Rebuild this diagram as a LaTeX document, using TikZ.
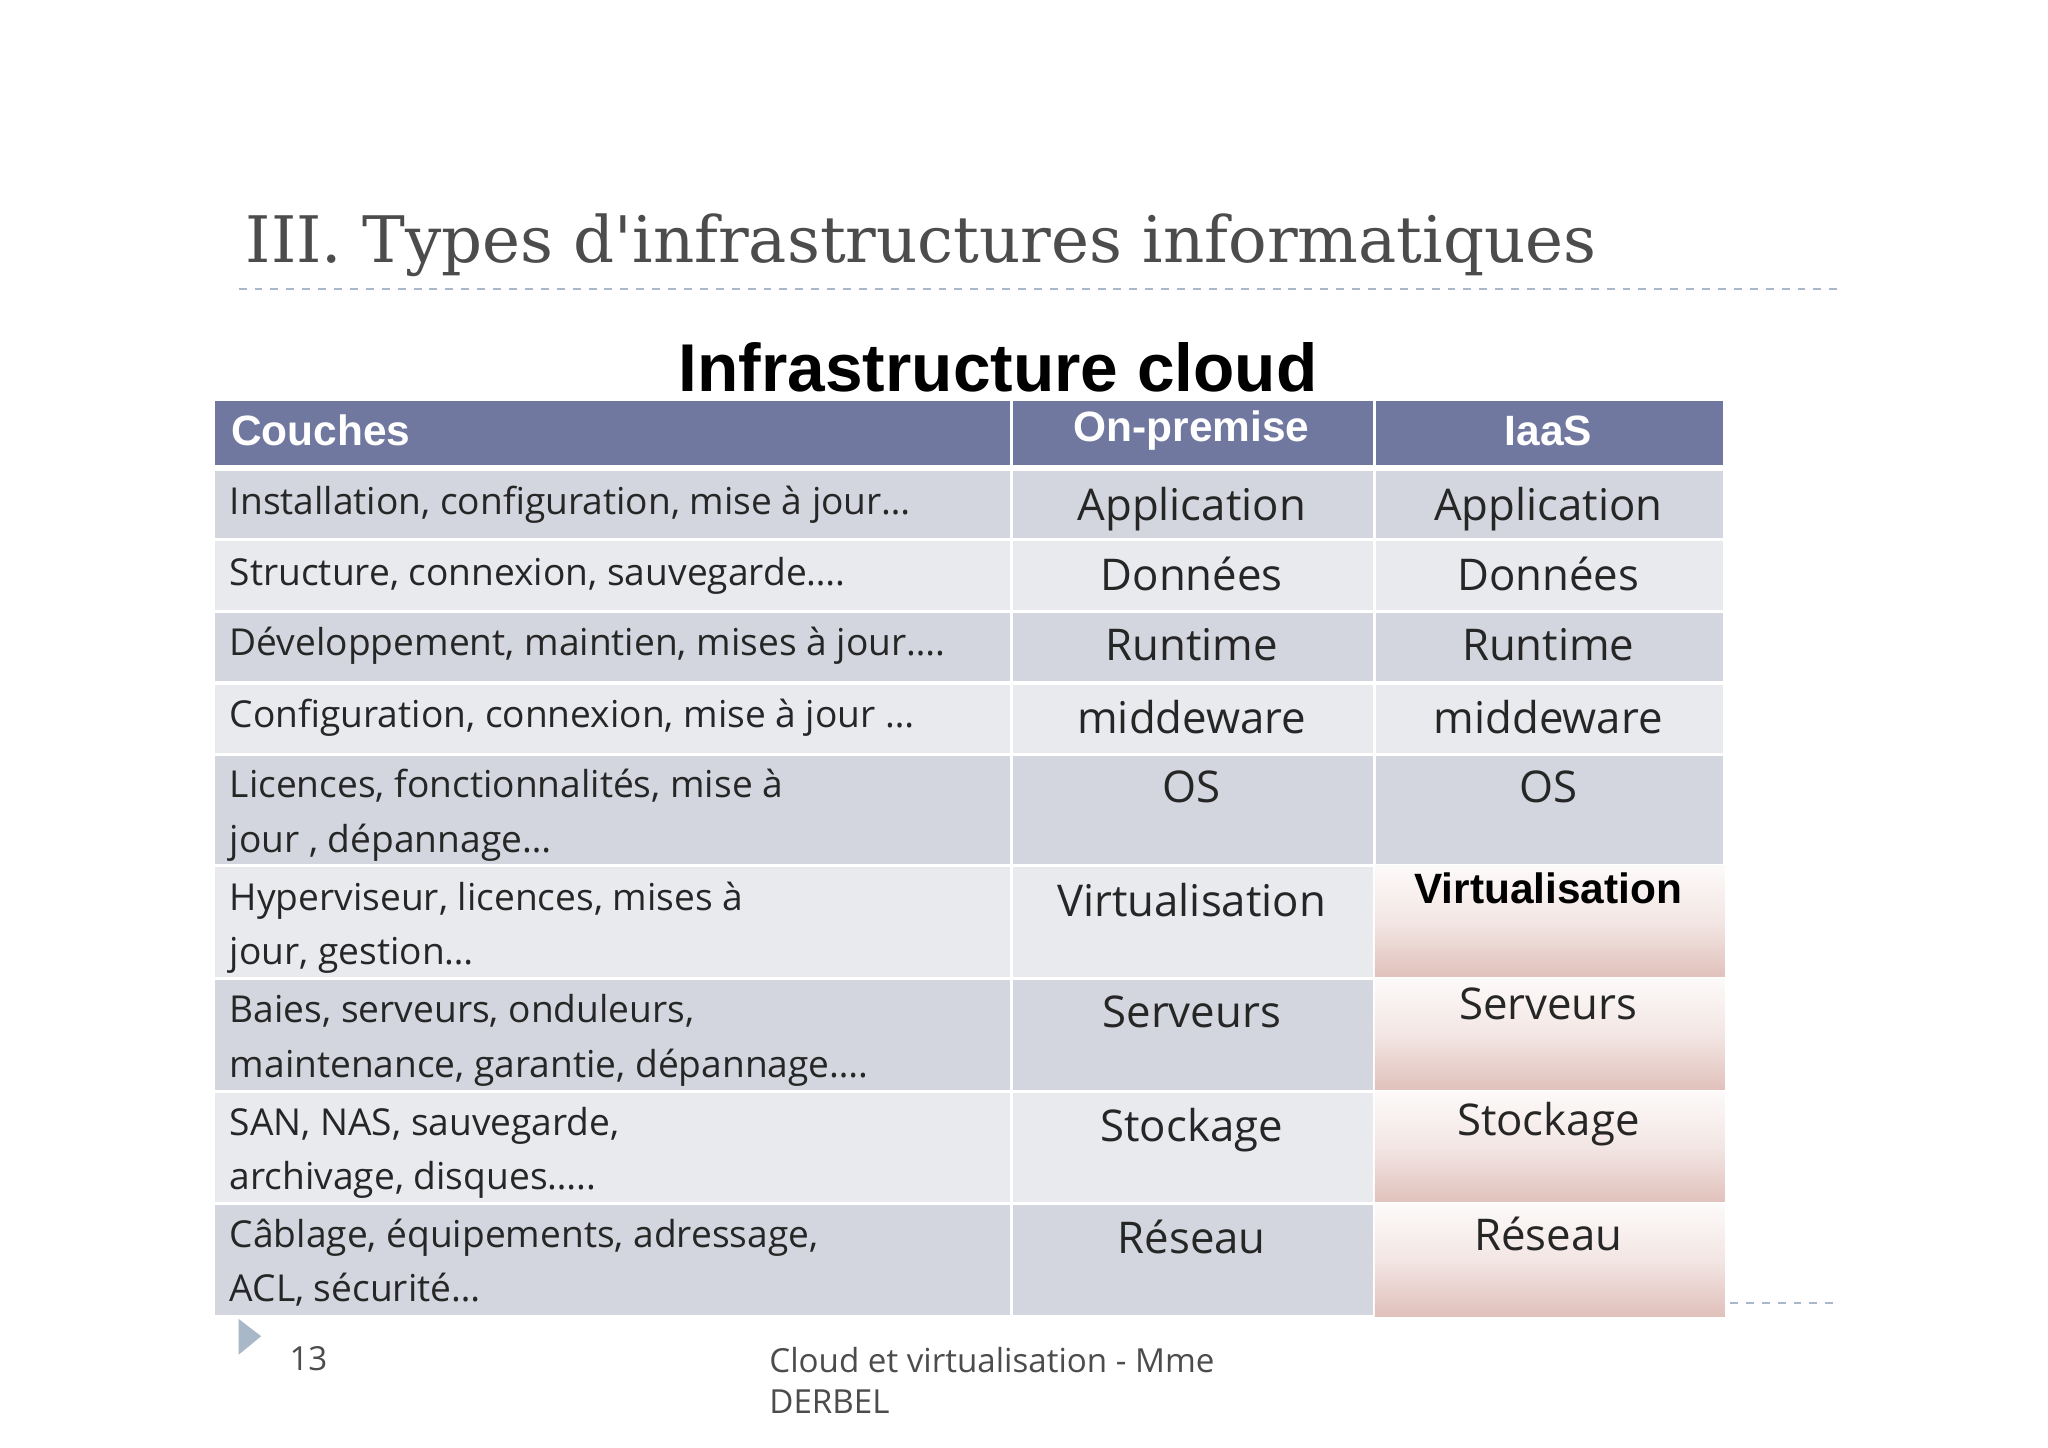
\documentclass[tikz,border=0pt]{standalone}
\usepackage{fontspec}
\setmainfont{Open Sans}
\newfontfamily\titlefont{DejaVu Serif}
\newfontfamily\arialf{Liberation Sans}
\begin{document}
\begin{tikzpicture}[x=0.5pt,y=-0.5pt,
  cellbox/.style={draw=white,line width=1.2pt,rectangle,inner sep=0pt,anchor=north west},
  dark/.style={fill=rowdark},light/.style={fill=rowlight},
  lefttxt/.style={anchor=north west,align=left,inner sep=0pt,font=\fontsize{14}{20.5}\selectfont,text=black!85},
  midtxt/.style={anchor=north,inner sep=0pt,font=\fontsize{16.5}{20}\selectfont,text=black!85},
  hdr/.style={inner sep=0pt,font=\arialf\bfseries\fontsize{16}{19}\selectfont,text=white}]
\definecolor{rowdark}{HTML}{D3D6DE}
\definecolor{rowlight}{HTML}{E9EAEE}
\definecolor{hdrc}{HTML}{7078A0}
\definecolor{pinkb}{HTML}{E0C0BA}
\definecolor{dashc}{HTML}{A8B8C8}
\useasboundingbox[fill=white] (0,0) rectangle (1545,1092);
\node[anchor=base west,inner sep=0pt,text=black!70,font=\titlefont\fontsize{24.2}{30}\selectfont] (title) at (185,198) {III. Types d'infrastructures informatiques};
\draw[dashc,dashed,line width=0.6pt] (180,218) -- (1387,218);
\node[inner sep=0pt,font=\arialf\bfseries\fontsize{25.5}{30}\selectfont] (sub) at (753,277) {Infrastructure cloud};
% header
\node[cellbox,fill=hdrc,minimum width=301pt,minimum height=25.5pt] (h1) at (160,300) {};
\node[cellbox,fill=hdrc,minimum width=137pt,minimum height=25.5pt] (h2) at (762,300) {};
\node[cellbox,fill=hdrc,minimum width=132pt,minimum height=25.5pt] (h3) at (1036,300) {};
\node[hdr,anchor=west] (t1) at (174,325) {Couches};
\node[hdr] (t2) at (899,325) {On-premise};
\node[hdr] (t3) at (1168,325) {IaaS};
% rows
\foreach \i/\t/\h/\s in {1/353/53/dark,2/406/54/light,3/460/54/dark,4/514/54/light,5/568/84/dark,6/652/85/light,7/737/85/dark,8/822/85/light,9/907/85/dark}{
  \node[cellbox,\s,minimum width=301pt,minimum height=\h*0.5pt] (a\i) at (160,\t) {};
  \node[cellbox,\s,minimum width=137pt,minimum height=\h*0.5pt] (b\i) at (762,\t) {};
}
\foreach \i/\t/\h/\s in {1/353/53/dark,2/406/54/light,3/460/54/dark,4/514/54/light,5/568/84/dark}{
  \node[cellbox,\s,minimum width=132pt,minimum height=\h*0.5pt] (c\i) at (1036,\t) {};
}
\foreach \i/\t in {6/652,7/737,8/822,9/907}{
  \node[cellbox,minimum width=132pt,minimum height=42.5pt] (c\i) at (1036,\t) {};
  \shade[top color=white!92!pinkb,bottom color=pinkb,middle color=white!60!pinkb] ([xshift=0.6pt,yshift=-0.6pt]c\i.north west) rectangle ([xshift=-0.6pt,yshift=0.6pt]c\i.south east);
}
% left texts
\node[lefttxt] (l1) at (173,366) {Installation, configuration, mise à jour…};
\node[lefttxt] (l2) at (173,420) {Structure, connexion, sauvegarde….};
\node[lefttxt] (l3) at (173,473) {Développement, maintien, mises à jour….};
\node[lefttxt] (l4) at (173,527) {Configuration, connexion, mise à jour …};
\node[lefttxt] (l5) at (173,580) {Licences, fonctionnalités, mise à\\jour , dépannage…};
\node[lefttxt] (l6) at (173,665) {Hyperviseur, licences, mises à\\jour, gestion…};
\node[lefttxt] (l7) at (173,750) {Baies, serveurs, onduleurs,\\maintenance, garantie, dépannage….};
\node[lefttxt] (l8) at (173,835) {SAN, NAS, sauvegarde,\\archivage, disques…..};
\node[lefttxt] (l9) at (173,919) {Câblage, équipements, adressage,\\ACL, sécurité…};
% middle and right
\foreach \i/\y/\w in {1/367/Application,2/420/Données,3/474/Runtime,4/528/middeware,5/581/OS,6/666/Virtualisation,7/751/Serveurs,8/836/Stockage,9/920/Réseau}{
  \node[midtxt] (m\i) at (899,\y) {\w};
}
\foreach \i/\y/\w in {1/367/Application,2/420/Données,3/474/Runtime,4/528/middeware,5/581/OS,7/745/Serveurs,8/831/Stockage,9/918/Réseau}{
  \node[midtxt] (r\i) at (1168,\y) {\w};
}
\node[midtxt,font=\arialf\bfseries\fontsize{16}{19}\selectfont,text=black] (r6) at (1168,658) {Virtualisation};
\draw[dashc,dashed,line width=0.6pt] (1305,983) -- (1387,983);
\fill[dashc] (180,995) -- (197,1008) -- (180,1022) -- cycle;
\node[anchor=base west,inner sep=0pt,text=black!70,font=\fontsize{12.5}{15}\selectfont] (pg) at (218,1034) {13};
\node[anchor=north west,align=left,inner sep=0pt,text=black!70,font=\fontsize{12.5}{15.5}\selectfont] (ft) at (580,1016) {Cloud et virtualisation - Mme\\DERBEL};
\end{tikzpicture}
\end{document}
